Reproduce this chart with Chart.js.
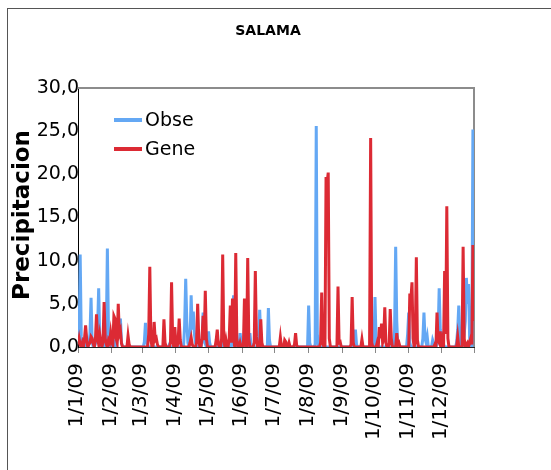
<!DOCTYPE html>
<html>
<head>
<meta charset="utf-8">
<script src="https://cdn.jsdelivr.net/npm/chart.js@4.4.1/dist/chart.umd.min.js"></script>
<style>
  body { margin: 0; background: #fff; }
  #chart { display: block; }
</style>
</head>
<body>
<canvas id="chart" width="551" height="470"></canvas>
<script>
// daily precipitation 2009, one row per month
const obse = [
  2.6,0.5,10.7,1.2,0,0.4,0,0,0.8,0,0.3,1.5,5.7,0.6,0,0,0.4,1.0,2.2,6.8,1.0,0,0.5,0,0.2,0,1.4,11.4,2.0,0,0.5,
  0,0,0,0.5,0,0.8,1.5,2.0,3.3,0.5,0,0,0,0,0,0,0,0,0,0,0,0,0,0,0,0,0,0,
  0,0,0.6,2.8,0.8,0,0,0,0,0,0,0,0,0,0,0,0,0,0,0,0,0,0,0,0,0.3,0,0,0,0,0.4,
  0,0,0,0,0,0,0,0,2.5,7.9,3.0,0.5,0,0.8,6.0,2.0,4.1,1.5,0.5,0,0,0,0.3,0,0.5,4.0,1.2,0.4,0,0.3,
  1.8,0.5,0,0,0,0,0,0,0,0,0,0,0,0.4,0,0,0,0,0,0,0,0,2.0,6.0,1.5,0,0,0.3,0,1.6,0.5,
  0,0,0,0,0,0,0,1.6,0.4,0,0,0,0,0,0,0.5,4.3,1.0,0,0,0,0,0,0,4.5,0.8,0,0,0,0,
  0,0,0,0,0,0,0,0,0,0,0,0,0,0,0,0,0,0,0,0,0,0,0,0,0,0,0,0,0,0,0,
  4.8,0.5,0,0,0,0,0.3,25.6,1.5,0,0,0,0,0,0,0,0,0,0,0,0,0,0,0,0,0,0,0,0,0,0,
  0,0,0,0,0,0,0,0,0,0,0,0.5,2.0,0.3,0,0,0,0,0,0,0,0,0,0,0,0,0,0,0,0,
  5.8,0.8,0,0,0,0,0,0,0,0,0,0,0,0,0,0,0,0,2.0,11.6,3.0,0,0,0,0,0,0,0,0,0,1.5,
  4.0,0.5,0,0,0,0,0,0,0,0,0,0,0,1.0,4.0,1.0,0.5,1.2,0,0,0,0,0.8,0.4,0,0,0.5,1.5,6.8,2.0,
  0.5,1.8,0.3,0,0,0,0,0,0,0,0,0,0,0,0.5,2.0,4.8,1.0,0,0,0.4,1.5,3.0,8.0,5.0,7.3,1.0,0.5,0,25.2,5.0
];
const gene = [
  0.3,1.0,0.2,0,0.5,0,1.0,2.5,0.8,0,0.3,0.5,1.2,1.0,0.4,0,0.8,3.8,1.0,0.3,1.4,0.5,0,0.6,5.2,1.0,0.3,0,0.8,0.5,1.6,
  0.5,0.2,3.6,3.3,1.0,0.5,5.0,1.5,1.9,0.4,0,0,0,0,0,1.3,0.3,0,0,0,0,0,0,0,0,0,0,0,
  0,0,0,0,0,0,1.5,9.3,1.0,0,0,2.9,0.8,1.0,0.3,0,0,0,0,0,3.2,0.5,0,0,0,0,0.5,7.5,1.0,0,2.3,
  0.3,0,0.5,3.3,0.8,0,0,0,0,0,0,0,0,0.5,1.1,0.3,0,0,0,0.5,5.0,1.0,0,0,1.0,3.6,0.8,6.5,1.0,0,
  0,0,0,0,0,0,0,0.8,2.0,0.3,0,0,1.0,10.7,1.0,0,0.8,0,0,1.0,4.8,0.5,5.6,1.5,0,10.9,1.0,0,0,0.5,0,
  0,0,5.6,1.0,0,10.3,1.0,0,0,0,0,0.5,8.8,1.2,0,0,0,3.2,0.5,0,0,0,0,0,0,0,0,0,0,0,
  0,0,0,0,0,1.1,0,0,0,0.8,0.6,0,0,0.5,0,0,0,0,0.3,1.6,0.2,0,0,0,0,0,0,0,0,0,0,
  0,0,0,0,0,0,0,0,0,0,0,0.5,6.3,0.5,0,0,19.7,19.0,20.2,1.0,0,0,0,0,0,0,0,7.0,0.5,0.6,0,
  0,0,0,0,0,0,0,0,0.3,5.8,0.5,0,0,0,0,0,0,0,0.9,0,0,0,0,0,0,0,24.2,0.5,0,0,
  0,0,0.5,0,2.3,1.0,2.7,0.5,1.0,4.6,0.5,0,0,0.3,4.4,1.0,0,0,0,0,1.6,0.3,0.5,0,0,0,0,0,0,0,0,
  0,6.2,5.5,7.5,1.0,0,0.5,10.4,0.8,0,0,0,0,0,0,0,0,0,0,0,0,0,0,0,0.3,0,4.0,0.8,0.5,1.8,
  0,0.8,0,8.8,1.5,16.3,1.0,0,0,0,0,0,0,0,0,1.2,0,0,0,0,11.6,1.0,0,0.3,0.5,0,0.5,1.0,0.3,11.8,3.0
];
const monthStarts = [0, 31, 59, 90, 120, 151, 181, 212, 243, 273, 304, 334, 364];
const monthLabels = ['1/1/09', '1/2/09', '1/3/09', '1/4/09', '1/5/09', '1/6/09',
  '1/7/09', '1/8/09', '1/9/09', '1/10/09', '1/11/09', '1/12/09', ''];
const yTicks = [0, 5, 10, 15, 20, 25, 30];

const BLUE = '#64a8f4';
const RED = '#dc2a34';
const FONT = 'DejaVu Sans';

const extras = {
  id: 'extras',
  beforeDatasetsDraw(chart) {
    const ctx = chart.ctx;
    const a = chart.chartArea;
    ctx.save();
    ctx.strokeStyle = '#8c8c8c';
    ctx.lineWidth = 2;
    ctx.beginPath();
    ctx.moveTo(a.left, a.top);
    ctx.lineTo(a.right, a.top);
    ctx.lineTo(a.right, a.bottom);
    ctx.stroke();
    ctx.restore();
  },
  afterDraw(chart) {
    const ctx = chart.ctx;
    const x = chart.scales.x;
    ctx.save();
    // outer frame
    ctx.strokeStyle = '#555';
    ctx.lineWidth = 1;
    ctx.strokeRect(7.5, 8.5, 600, 600);
    // title
    ctx.fillStyle = '#000';
    ctx.font = 'bold 14px "' + FONT + '"';
    ctx.textAlign = 'center';
    ctx.textBaseline = 'middle';
    ctx.fillText('SALAMA', 268, 31);
    // y title
    ctx.save();
    ctx.translate(23, 215);
    ctx.rotate(-Math.PI / 2);
    ctx.font = 'bold 23px "' + FONT + '"';
    ctx.fillText('Precipitacion', 0, 0);
    ctx.restore();
    // x labels, vertical
    ctx.font = '20px "' + FONT + '"';
    ctx.textAlign = 'right';
    monthStarts.forEach((d, i) => {
      ctx.save();
      ctx.translate(x.getPixelForValue(d) - 1, x.top + 16);
      ctx.rotate(-Math.PI / 2);
      ctx.fillText(monthLabels[i], 0, 0);
      ctx.restore();
    });
    // legend
    const items = [['Obse', BLUE, 120], ['Gene', RED, 149]];
    ctx.font = '19px "' + FONT + '"';
    ctx.textAlign = 'left';
    items.forEach(([name, color, y]) => {
      ctx.strokeStyle = color;
      ctx.lineWidth = 4;
      ctx.beginPath();
      ctx.moveTo(114, y);
      ctx.lineTo(142, y);
      ctx.stroke();
      ctx.fillStyle = '#000';
      ctx.fillText(name, 145, y + 1);
    });
    ctx.restore();
  }
};

new Chart(document.getElementById('chart'), {
  type: 'line',
  data: {
    datasets: [
      {
        label: 'Obse',
        data: obse.map((v, i) => ({ x: i, y: v })),
        borderColor: BLUE,
        borderWidth: 3,
        pointRadius: 0,
        tension: 0,
        order: 2
      },
      {
        label: 'Gene',
        data: gene.map((v, i) => ({ x: i, y: v })),
        borderColor: RED,
        borderWidth: 3,
        pointRadius: 0,
        tension: 0,
        order: 1
      }
    ]
  },
  options: {
    responsive: false,
    animation: false,
    layout: { padding: { left: 8, top: 88, right: 77, bottom: 0 } },
    plugins: {
      legend: { display: false },
      title: { display: false },
      tooltip: { enabled: false }
    },
    scales: {
      x: {
        type: 'linear',
        min: 0,
        max: 364,
        afterBuildTicks: s => { s.ticks = monthStarts.map(v => ({ value: v })); },
        afterFit: s => { s.height = 123; },
        grid: { drawOnChartArea: false, drawTicks: true, tickLength: 6, color: '#888' },
        border: { color: '#222', width: 1 },
        ticks: { display: false }
      },
      y: {
        min: 0,
        max: 30,
        afterBuildTicks: s => { s.ticks = yTicks.map(v => ({ value: v })); },
        afterFit: s => { s.width = 70; },
        grid: { display: false, drawTicks: false },
        border: { color: '#000', width: 1 },
        ticks: {
          padding: -1,
          color: '#000',
          font: { family: FONT, size: 19 },
          callback: v => v.toFixed(1).replace('.', ',')
        }
      }
    }
  },
  plugins: [extras]
});
</script>
</body>
</html>
